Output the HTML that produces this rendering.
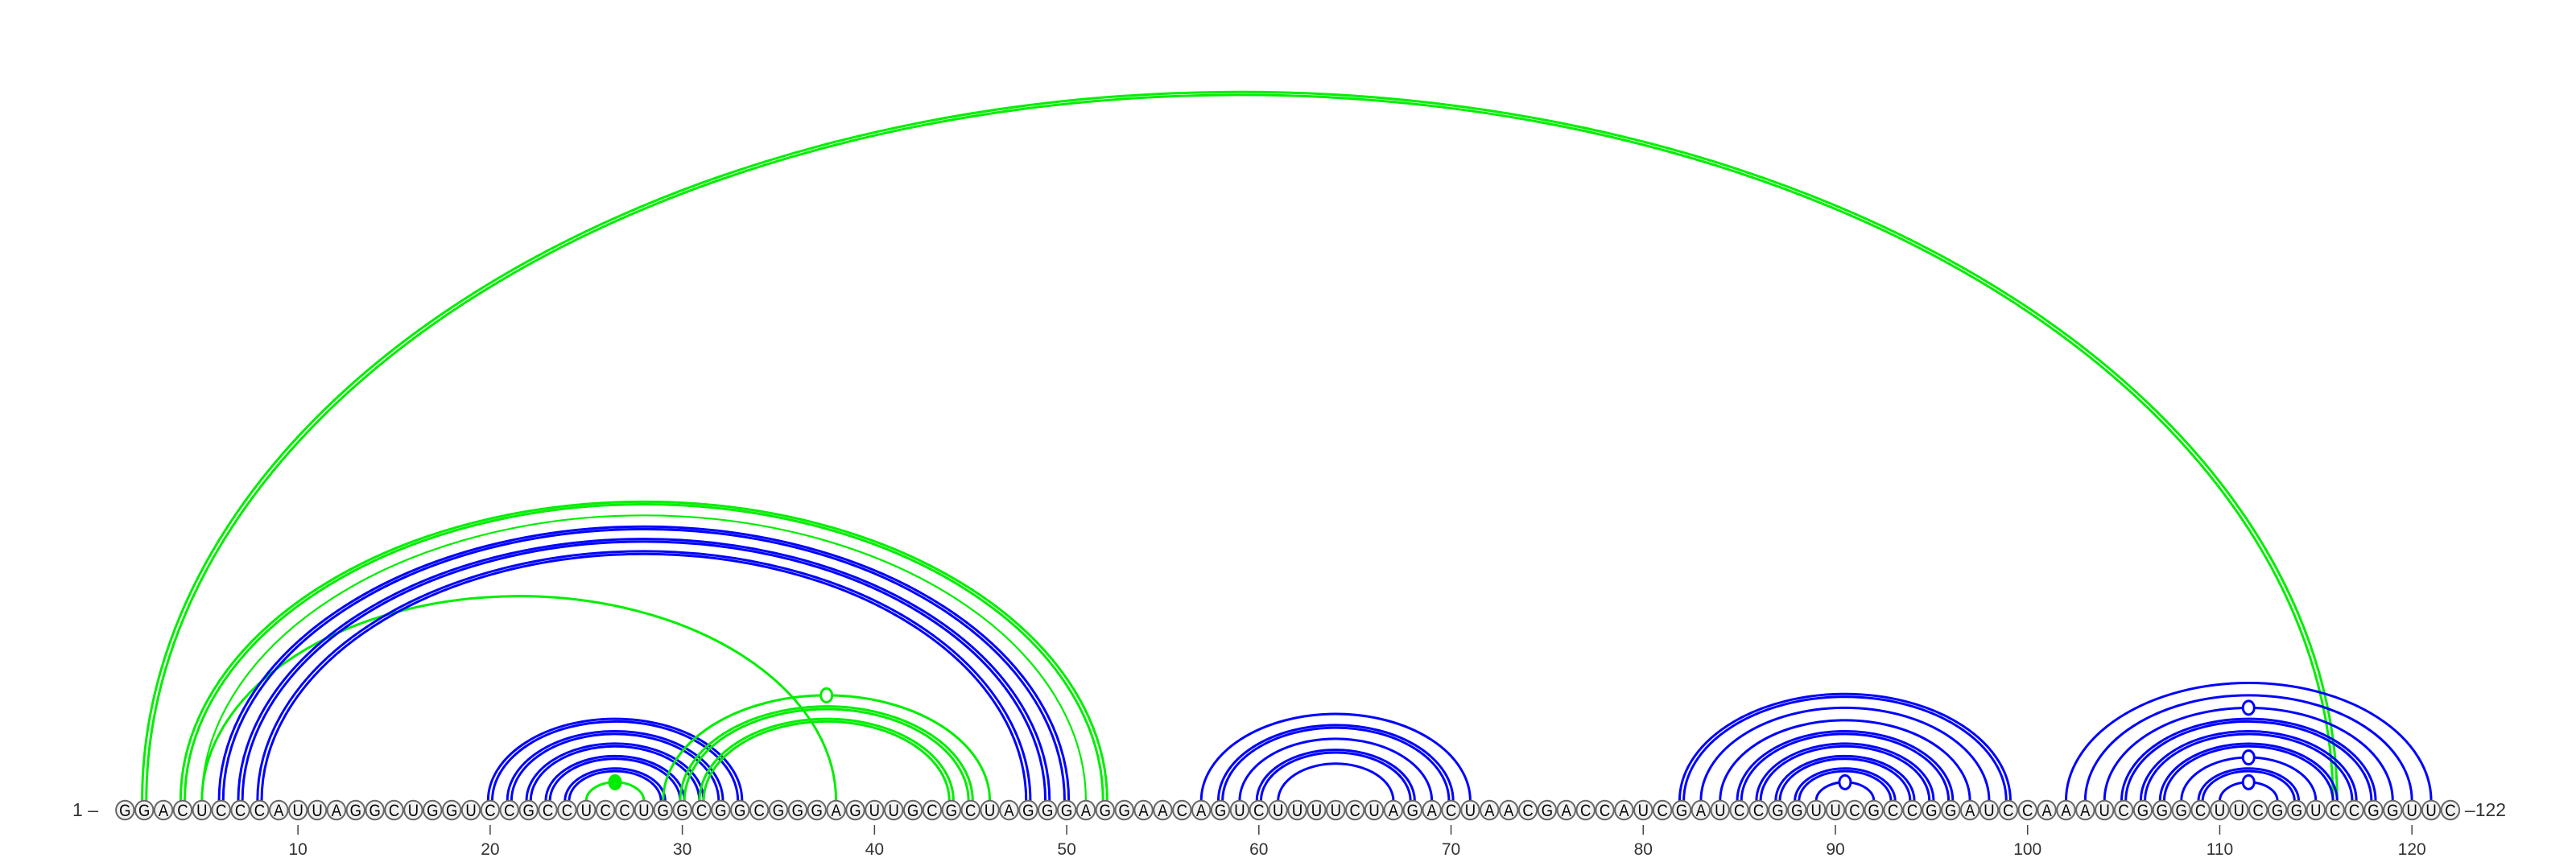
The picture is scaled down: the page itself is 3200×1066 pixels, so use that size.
<!DOCTYPE html>
<html><head><meta charset="utf-8"><style>
html,body{margin:0;padding:0;background:#fff;}
svg{display:block;}
</style></head><body>
<svg id="chart" width="3200" height="1066" viewBox="0 0 3200 1066" xmlns="http://www.w3.org/2000/svg">
<g id="arcs"></g>
<g id="bases"></g>
<g id="axis"></g>
</svg>
<script>
const sequence = "GGACUCCCAUUAGGCUGGUCCGCCUCCUGGCGGCGGGAGUUGCGCUAGGGAGGAACAGUCUUUUCUAGACUAACGACCAUCGAUCCGGUUCGCCGGAUCCAAAUCGGGCUUCGGUCCGGUUC";
const tickPositions = [10,20,30,40,50,60,70,80,90,100,110,120];
const pairStart = [2,4,5,5,6,7,8,20,21,22,23,24,25,29,30,31,57,58,59,60,61,82,83,84,85,86,87,88,89,102,103,104,105,106,107,108,109,110];
const pairEnd   = [116,52,51,38,50,49,48,33,32,31,30,29,28,46,45,44,71,70,69,68,67,99,98,97,96,95,94,93,92,121,120,119,118,117,116,115,114,113];
const pairKind  = ["g","g","g","g","b","b","b","b","b","b","b","b","g","g","g","g","b","b","b","b","b","b","b","b","b","b","b","b","b","b","b","b","b","b","b","b","b","b"];
const pairDouble= [1,1,0,0,1,1,1,1,1,1,1,1,0,0,1,1,0,1,0,1,0,1,0,0,1,1,1,1,0,0,0,0,1,1,1,0,1,0];
const pairMarker= ["","","","","","","","","","","","","filled","open","","","","","","","","","","","","","","","open","","","open","","","","open","","open"];

const NS="http://www.w3.org/2000/svg";
const X0=155.3, DX=23.873, BASEY=1006.5, ARCY=995, RATIO=0.646;
function xPos(i){return X0+(i-1)*DX;}
function mk(tag,attrs,parent){const e=document.createElementNS(NS,tag);for(const k in attrs)e.setAttribute(k,attrs[k]);parent.appendChild(e);return e;}
const arcs=document.getElementById('arcs'), bases=document.getElementById('bases'), axis=document.getElementById('axis');
const COL={g:"#00ee00",b:"#0000ff"};

for(let p=0;p<pairStart.length;p++){
  const a=xPos(pairStart[p]), b=xPos(pairEnd[p]);
  const cx=(a+b)/2, rx=(b-a)/2;
  const offs=pairDouble[p]?[-2.6,2.6]:[0];
  const sw=(pairKind[p]==="g"&&!pairDouble[p]&&pairEnd[p]===51)?2.2:3;
  offs.forEach(o=>{
    const r=rx+o, ry=r*RATIO;
    const path=mk('path',{d:`M${cx-r},${ARCY} A${r},${ry} 0 0 1 ${cx+r},${ARCY}`,fill:"none",stroke:COL[pairKind[p]],"stroke-width":sw},arcs);
    
    
  });
  if(pairMarker[p]){
    const ry=rx*RATIO;
    const m=mk('ellipse',{cx:cx,cy:ARCY-ry,rx:7,ry:8.5,fill:pairMarker[p]==="filled"?COL[pairKind[p]]:"#fff",stroke:COL[pairKind[p]],"stroke-width":3},arcs);
    
    
  }
}

for(let i=1;i<=sequence.length;i++){
  const x=xPos(i);
  const g=mk('g',{},bases);
  
  
  mk('ellipse',{cx:x,cy:BASEY,rx:11.2,ry:11.8,fill:"#f2f2f2",stroke:"#666","stroke-width":2},g);
  const t=mk('text',{x:0,y:0,"text-anchor":"middle","font-family":"'Liberation Sans',sans-serif","font-size":21,fill:"#000",transform:`translate(${x},${BASEY+7.5}) scale(0.88,1)`},g);
  t.textContent=sequence[i-1];
}

tickPositions.forEach(v=>{
  const x=xPos(v);
  const tk=mk('line',{x1:x,y1:1025,x2:x,y2:1037,stroke:"#444","stroke-width":1.5},axis);
  
  
  const t=mk('text',{x:x,y:1062,"text-anchor":"middle","font-family":"'Liberation Sans',sans-serif","font-size":21,fill:"#333"},axis);
  
  
  t.textContent=v;
});
const s=mk('text',{x:122,y:1014,"text-anchor":"end","font-family":"'Liberation Sans',sans-serif","font-size":23,fill:"#333"},axis);


s.textContent="1 –";
const e=mk('text',{x:xPos(sequence.length)+18,y:1014,"text-anchor":"start","font-family":"'Liberation Sans',sans-serif","font-size":23,fill:"#333"},axis);


e.textContent="–122";
</script>
</body></html>
